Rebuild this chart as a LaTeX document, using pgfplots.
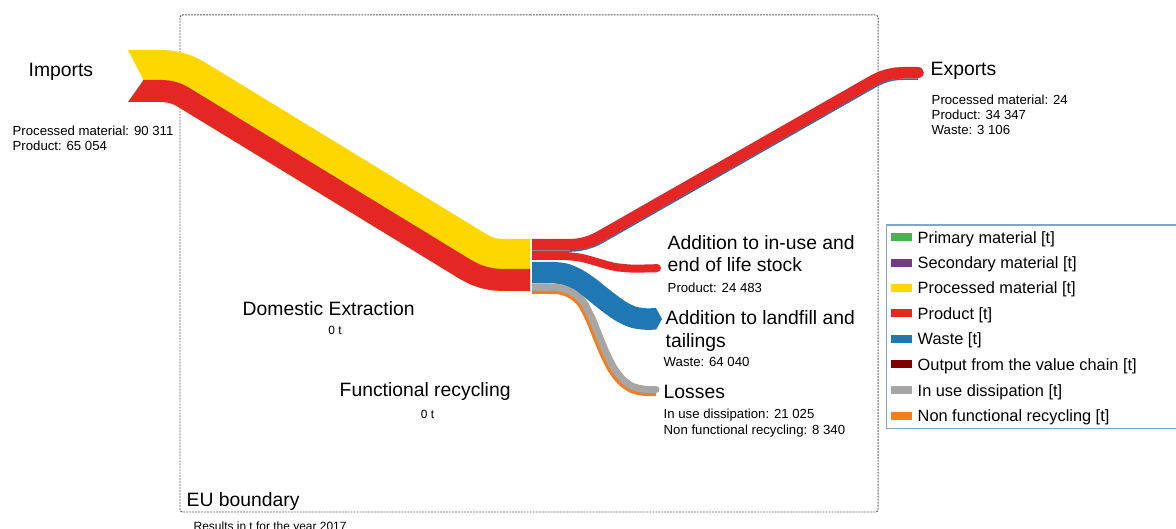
\documentclass[border=0pt]{standalone}
\usepackage{fontspec}
\setmainfont{Liberation Sans}
\usepackage{pgfplots}
\pgfplotsset{compat=1.18}

\definecolor{prim}{RGB}{76,175,80}
\definecolor{sec}{RGB}{118,56,140}
\definecolor{proc}{RGB}{255,215,0}
\definecolor{prod}{RGB}{228,38,36}
\definecolor{waste}{RGB}{31,119,180}
\definecolor{outvc}{RGB}{128,0,0}
\definecolor{diss}{RGB}{166,166,166}
\definecolor{nfr}{RGB}{242,126,29}
\definecolor{lgbox}{RGB}{130,165,205}

\newcommand\fbig{\fontsize{5.5pt}{6.5pt}\selectfont}
\newcommand\fleg{\fontsize{4.65pt}{5.5pt}\selectfont}
\newcommand\fsmall{\fontsize{3.75pt}{4.5pt}\selectfont}
\newcommand\ftiny{\fontsize{3.4pt}{4pt}\selectfont}

% one axis unit = one pixel of the original = 0.1 mm, so band widths are given in mm
\tikzset{lbl/.style={anchor=base west, inner sep=0pt}}

\begin{document}
\begin{tikzpicture}
\begin{axis}[
  width=117.6mm, height=52.9mm, scale only axis,
  xmin=0, xmax=1176, ymin=0, ymax=529, y dir=reverse,
  enlargelimits=false, hide axis,
]
% EU boundary
\addplot[gray!75!black, line width=0.28pt, dash pattern=on 0.55pt off 0.3pt, rounded corners=0.25mm]
  coordinates {(530,15)(878,15)(878,512)(180,512)(180,15)(530,15)};

% imports: processed material 90 311 (whole band), product 65 054 (lower part)
\addplot[proc, line width=5.2mm, line join=round] coordinates {
  (143,76)(161.95,76)(169.46,76.52)(176.82,78.05)(183.91,80.58)(190.59,84.05)
  (473.81,256.95)(480.49,260.42)(487.58,262.95)(494.94,264.48)(502.45,265)(530,265)};
\addplot[prod, line width=2.2mm, line join=round] coordinates {
  (143,91)(161.95,91)(167.41,91.38)(172.77,92.49)(177.92,94.33)(182.78,96.85)
  (465.99,269.76)(474.5,274.18)(483.52,277.39)(492.89,279.34)(502.45,280)(530,280)};
\addplot[fill=proc, draw=none] coordinates {(128,50)(143.5,50)(143.5,80)} -- cycle;
\addplot[fill=prod, draw=none] coordinates {(143.5,80)(143.5,102)(128,102)} -- cycle;

% exports: product 34 347, waste 3 106
\addplot[waste, line width=0.16mm, line join=round] coordinates {
  (532,251.1)(569.5,251.1)(578.07,250.54)(586.49,248.88)(594.63,246.16)(602.35,242.4)
  (876.34,86.14)(882.58,83.1)(889.16,80.89)(895.97,79.55)(902.9,79.1)(918,79.1)};
\addplot[prod, line width=1.15mm, line join=round] coordinates {
  (532,244.75)(569.5,244.75)(577.25,244.25)(584.87,242.75)(592.23,240.28)(599.21,236.88)
  (873.19,80.62)(880.17,77.22)(887.53,74.75)(895.15,73.25)(902.9,72.75)(918,72.75)};
\addplot[prod, line width=1.15mm, line cap=round] coordinates {(916,72.75)(918,72.75)};

% addition to stock: product 24 483
\addplot[prod, line width=0.8mm, smooth]
  coordinates {(532,256)(548,256)(565,256)(581.25,257.8)(597.5,262.25)(613.75,266.7)(630,268.5)(645,268.5)(657,268.5)};
\addplot[prod, line width=0.8mm, line cap=round] coordinates {(655,268.5)(657,268.5)};

% addition to landfill: waste 64 040
\addplot[waste, line width=2.15mm, smooth]
  coordinates {(532,272.75)(544,272.75)(555,272.75)(566.25,274.5)(577.5,279.5)(588.75,287)(600,295.9)(611.25,304.7)(622.5,312.3)(633.75,317.3)(645,319)(652,319)};
\addplot[fill=waste, draw=none] coordinates {(651,308.25)(656,308.25)(662,319)(656,329.75)(651,329.75)} -- cycle;

% losses: in use dissipation 21 025, non functional recycling 8 340
\addplot[nfr, line width=1.0mm, smooth]
  coordinates {(532,289)(548,289)(560,289.5)(572,294)(582,303)(590,318)(597,335)(604,352)(612,368)(621,380)(632,388)(645,391)(656,391)};
\addplot[diss, line width=0.7mm, smooth]
  coordinates {(532,287.5)(548,287.5)(560.3,288.0)(572.8,292.7)(583.2,302.1)(591.4,317.4)(598.4,334.4)(605.4,351.4)(613.3,367.2)(622.1,378.9)(632.6,386.6)(645.2,389.5)(656,389.5)};
\addplot[diss, line width=0.7mm, line cap=round] coordinates {(654,389.5)(656,389.5)};

% legend
\addplot[lgbox, line width=0.45pt] coordinates {(886.5,225)(1200,225)(1200,428.5)(886.5,428.5)} -- cycle;
\addplot[prim,  line width=0.8mm] coordinates {(891,237.5)(911.5,237.5)};
\addplot[sec,   line width=0.8mm] coordinates {(891,263)(911.5,263)};
\addplot[proc,  line width=0.8mm] coordinates {(891,288)(911.5,288)};
\addplot[prod,  line width=0.8mm] coordinates {(891,313.5)(911.5,313.5)};
\addplot[waste, line width=0.8mm] coordinates {(891,339)(911.5,339)};
\addplot[outvc, line width=0.8mm] coordinates {(891,364.5)(911.5,364.5)};
\addplot[diss,  line width=0.8mm] coordinates {(891,390)(911.5,390)};
\addplot[nfr,   line width=0.8mm] coordinates {(891,415.5)(911.5,415.5)};
\node[lbl, font=\fleg] at (axis cs:917,243.5) {Primary material [t]};
\node[lbl, font=\fleg] at (axis cs:917,269) {Secondary material [t]};
\node[lbl, font=\fleg] at (axis cs:917,294) {Processed material [t]};
\node[lbl, font=\fleg] at (axis cs:917,319.5) {Product [t]};
\node[lbl, font=\fleg] at (axis cs:917,345) {Waste [t]};
\node[lbl, font=\fleg] at (axis cs:917,370.5) {Output from the value chain [t]};
\node[lbl, font=\fleg] at (axis cs:917,396) {In use dissipation [t]};
\node[lbl, font=\fleg] at (axis cs:917,421.5) {Non functional recycling [t]};

% labels
\node[lbl, font=\fbig] at (axis cs:28,77) {Imports};
\node[lbl, font=\fsmall] at (axis cs:12,135.5) {Processed material: 90 311};
\node[lbl, font=\fsmall] at (axis cs:12,151) {Product: 65 054};
\node[lbl, font=\fbig] at (axis cs:930,75.5) {Exports};
\node[lbl, font=\fsmall] at (axis cs:931,104.5) {Processed material: 24};
\node[lbl, font=\fsmall] at (axis cs:931,119.5) {Product: 34 347};
\node[lbl, font=\fsmall] at (axis cs:931,134.5) {Waste: 3 106};
\node[lbl, font=\fbig] at (axis cs:667,249.5) {Addition to in-use and};
\node[lbl, font=\fbig] at (axis cs:667,271.5) {end of life stock};
\node[lbl, font=\fsmall] at (axis cs:667,292.5) {Product: 24 483};
\node[lbl, font=\fbig] at (axis cs:665,325) {Addition to landfill and};
\node[lbl, font=\fbig] at (axis cs:665,347) {tailings};
\node[lbl, font=\fsmall] at (axis cs:663,366.5) {Waste: 64 040};
\node[lbl, font=\fbig] at (axis cs:663,398.5) {Losses};
\node[lbl, font=\fsmall] at (axis cs:663,418) {In use dissipation: 21 025};
\node[lbl, font=\fsmall] at (axis cs:663,434) {Non functional recycling: 8 340};
\node[lbl, font=\fbig] at (axis cs:242,316) {Domestic Extraction};
\node[anchor=base, inner sep=0pt, font=\ftiny] at (axis cs:335,335) {0 t};
\node[lbl, font=\fbig] at (axis cs:339,396.5) {Functional recycling};
\node[anchor=base, inner sep=0pt, font=\ftiny] at (axis cs:427.5,418) {0 t};
\node[lbl, font=\fbig] at (axis cs:186,506.5) {EU boundary};
\node[lbl, font=\ftiny] at (axis cs:193,530.5) {Results in t for the year 2017};
\end{axis}
\pgfresetboundingbox
\path[use as bounding box] (current axis.south west) rectangle (current axis.north east);
\end{tikzpicture}
\end{document}
